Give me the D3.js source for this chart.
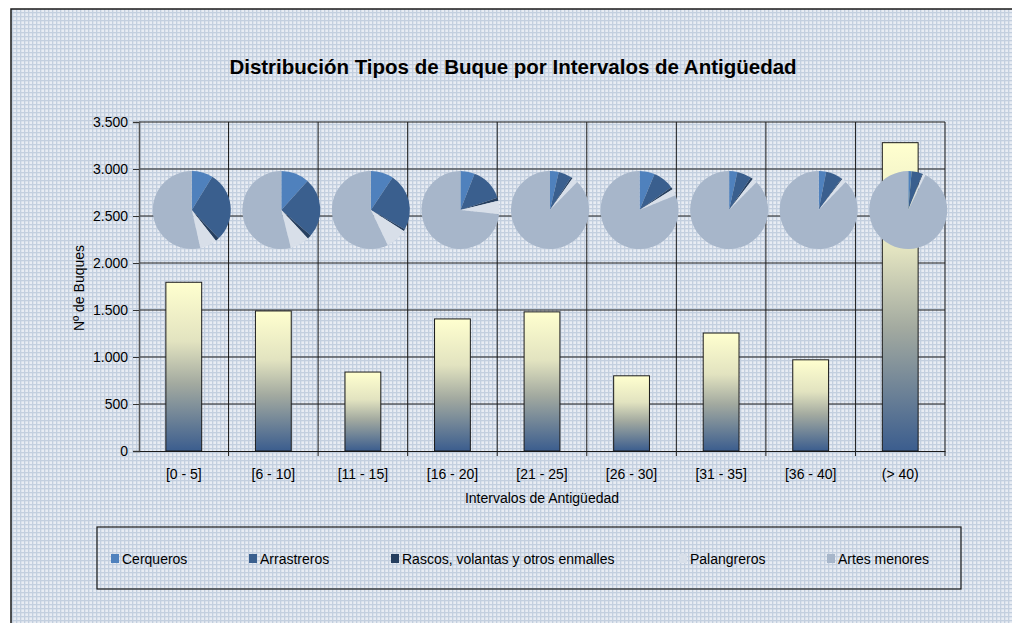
<!DOCTYPE html>
<html>
<head>
<meta charset="utf-8">
<script src="https://cdn.jsdelivr.net/npm/d3@7"></script>
<style>
  body { margin: 0; background: #fff; overflow: hidden; }
  svg { display: block; }
  text { font-family: "Liberation Sans", Arial, sans-serif; fill: #000; }
</style>
</head>
<body>
<div id="chart"></div>
<script>
// Intervalos de antigüedad y número de buques
var intervals = ["[0 - 5]", "[6 - 10]", "[11 - 15]", "[16 - 20]", "[21 - 25]", "[26 - 30]", "[31 - 35]", "[36 - 40]", "(> 40)"];
var boats = [1795, 1490, 840, 1405, 1480, 800, 1255, 970, 3280];
var yTicks = [0, 500, 1000, 1500, 2000, 2500, 3000, 3500];

// Tipos de buque (porcentaje de cada intervalo)
var types = ["Cerqueros", "Arrastreros", "Rascos, volantas y otros enmalles", "Palangreros", "Artes menores"];
var cerqueros   = [8.8, 11.7, 9.4, 5.9, 3.6, 6.3, 3.4, 3.1, 1.4];
var arrastreros = [29.1, 24.7, 23.8, 14.0, 5.5, 8.8, 6.0, 6.9, 4.5];
var rascos      = [1.5, 1.7, 0.9, 1.3, 0.7, 1.0, 1.0, 0.4, 0.3];
var palangreros = [7.1, 8.0, 8.8, 5.5, 2.5, 2.7, 2.0, 1.8, 1.1];
var artes       = [53.5, 53.9, 57.1, 73.3, 87.7, 81.2, 87.6, 87.8, 92.7];

var typeColors = ["#4F81BD", "#3A5F8E", "#263F5F", "#D8DFE9", "#A7B6CA"];

var width = 1012, height = 623;
var margin = { left: 139, right: 945, top: 122, bottom: 451 };

var svg = d3.select("#chart").append("svg")
  .attr("width", width)
  .attr("height", height);

// patterned background
var defs = svg.append("defs");
var pat = defs.append("pattern")
  .attr("id", "bgpat")
  .attr("width", 4).attr("height", 4)
  .attr("patternUnits", "userSpaceOnUse");
pat.append("rect").attr("width", 4).attr("height", 4).attr("fill", "#E8ECF3");
pat.append("rect").attr("width", 4).attr("height", 1.3).attr("fill", "#C3CFDF");
pat.append("rect").attr("width", 1.3).attr("height", 4).attr("fill", "#C3CFDF");

var grad = defs.append("linearGradient")
  .attr("id", "bargrad")
  .attr("x1", 0).attr("y1", 0).attr("x2", 0).attr("y2", 1);
grad.append("stop").attr("offset", "0%").attr("stop-color", "#FFFFCF");
grad.append("stop").attr("offset", "35%").attr("stop-color", "#E2E3C0");
grad.append("stop").attr("offset", "60%").attr("stop-color", "#A3AAA0");
grad.append("stop").attr("offset", "100%").attr("stop-color", "#3B5D8E");

// background with border only on top and left (the rest is cut off)
svg.append("rect")
  .attr("x", 11).attr("y", 9)
  .attr("width", width - 11).attr("height", height - 9)
  .attr("fill", "url(#bgpat)");
svg.append("path")
  .attr("d", "M11," + height + "V9H" + width)
  .attr("fill", "none")
  .attr("stroke", "#1a1a1a")
  .attr("stroke-width", 1.5);

// title
svg.append("text")
  .attr("x", 513).attr("y", 74)
  .attr("text-anchor", "middle")
  .style("font-size", "20.5px")
  .style("font-weight", "bold")
  .text("Distribución Tipos de Buque por Intervalos de Antigüedad");

// scales
var x = d3.scaleBand()
  .domain(intervals)
  .range([margin.left, margin.right]);

var y = d3.scaleLinear()
  .domain([0, 3500])
  .range([margin.bottom, margin.top]);

var es = d3.formatLocale({ decimal: ",", thousands: ".", grouping: [3], currency: ["", "€"] });
var fmt = es.format(",d");

// horizontal gridlines
svg.append("g")
  .selectAll("line")
  .data(yTicks.slice(1))
  .enter().append("line")
  .attr("x1", margin.left).attr("x2", margin.right)
  .attr("y1", function(d) { return y(d); })
  .attr("y2", function(d) { return y(d); })
  .attr("stroke", "#1a1a1a")
  .attr("stroke-width", 1);

// vertical gridlines at interval boundaries
var bounds = intervals.map(function(d) { return x(d) + x.bandwidth(); });
svg.append("g")
  .selectAll("line")
  .data(bounds)
  .enter().append("line")
  .attr("x1", function(d) { return d; })
  .attr("x2", function(d) { return d; })
  .attr("y1", margin.top).attr("y2", margin.bottom + 5)
  .attr("stroke", "#1a1a1a")
  .attr("stroke-width", 1);

// bars
var barW = x.bandwidth() * 0.4;
svg.append("g")
  .selectAll("rect")
  .data(boats)
  .enter().append("rect")
  .attr("x", function(d, i) { return x(intervals[i]) + (x.bandwidth() - barW) / 2; })
  .attr("y", function(d) { return y(d); })
  .attr("width", barW)
  .attr("height", function(d) { return y(0) - y(d); })
  .attr("fill", "url(#bargrad)")
  .attr("stroke", "#1a1a1a")
  .attr("stroke-width", 1);

// y axis
var yAxis = svg.append("g")
  .attr("transform", "translate(" + margin.left + ",0)")
  .call(d3.axisLeft(y).tickValues(yTicks).tickFormat(fmt).tickSize(6).tickPadding(5));
yAxis.select(".domain").attr("stroke", "#555").attr("stroke-width", 1.5);
yAxis.selectAll(".tick line").attr("stroke", "#333");
yAxis.selectAll("text")
  .style("font-size", "14px")
  .style("font-family", "'Liberation Sans', Arial, sans-serif")
  .attr("fill", "#000");

// x axis
var xAxis = svg.append("g")
  .attr("transform", "translate(0," + margin.bottom + ")")
  .call(d3.axisBottom(x).tickSize(0).tickPadding(18));
xAxis.select(".domain").attr("stroke", "#1a1a1a").attr("stroke-width", 1);
xAxis.selectAll("text")
  .style("font-size", "14px")
  .style("font-family", "'Liberation Sans', Arial, sans-serif")
  .attr("fill", "#000");

// axis titles
svg.append("text")
  .attr("transform", "translate(84,288) rotate(-90)")
  .attr("text-anchor", "middle")
  .style("font-size", "14px")
  .text("Nº de Buques");

svg.append("text")
  .attr("x", (margin.left + margin.right) / 2)
  .attr("y", 503)
  .attr("text-anchor", "middle")
  .style("font-size", "14px")
  .text("Intervalos de Antigüedad");

// pies per interval
var pie = d3.pie().sort(null).value(function(d) { return d; });
var arc = d3.arc().innerRadius(0).outerRadius(39);

intervals.forEach(function(cat, i) {
  var shares = [cerqueros[i], arrastreros[i], rascos[i], palangreros[i], artes[i]];
  var g = svg.append("g")
    .attr("transform", "translate(" + (x(cat) + x.bandwidth() / 2 + 8) + ",210)");
  g.selectAll("path")
    .data(pie(shares))
    .enter().append("path")
    .attr("d", arc)
    .attr("fill", function(d, j) { return typeColors[j]; });
});

// legend
svg.append("rect")
  .attr("x", 97).attr("y", 527)
  .attr("width", 864).attr("height", 62)
  .attr("fill", "none")
  .attr("stroke", "#1a1a1a")
  .attr("stroke-width", 1.2);

var legendX = [111, 249, 391, 679, 827];
var legend = svg.append("g")
  .selectAll("g")
  .data(types)
  .enter().append("g")
  .attr("transform", function(d, i) { return "translate(" + legendX[i] + ",554)"; });
legend.append("rect")
  .attr("width", 8).attr("height", 9)
  .attr("fill", function(d, i) { return typeColors[i]; });
legend.append("text")
  .attr("x", 11).attr("y", 10)
  .style("font-size", "14px")
  .text(function(d) { return d; });
</script>
</body>
</html>
